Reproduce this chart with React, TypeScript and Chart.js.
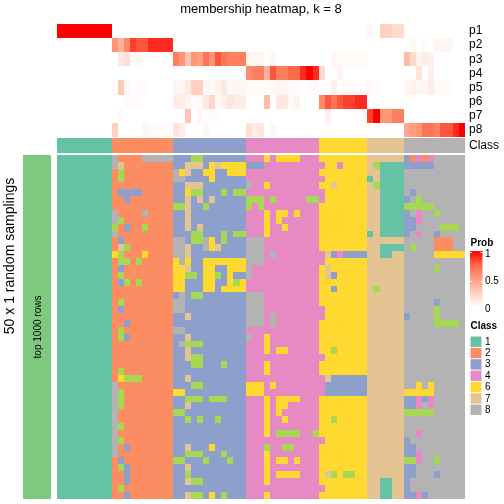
import React, { useEffect, useRef } from "react";
import { Chart, registerables } from "chart.js";

Chart.register(...registerables);

const titleText = "membership heatmap, k = 8";
const rowAxisTitle = "50 x 1 random samplings";
const rowAnnotationLabel = "top 1000 rows";
const probLabels = ["p1", "p2", "p3", "p4", "p5", "p6", "p7", "p8"];
const legendClasses = ["1", "2", "3", "4", "6", "7", "8"];
const colbarTicks = ["1", "0.5", "0"];

const groupSizes = [9, 10, 12, 12, 8, 6, 10];
const groupClasses = ["1", "2", "3", "4", "6", "7", "8"];

const p1 = [1,1,1,1,1,1,1,1,1, 0,0,0,0,0,0,0,0,0,0, 0,0,0,0,0,0,0,0,0,0,0,0, 0,0,0,0,0,0,0,0,0,0,0,0, 0,0,0,0,0,0,0,0, .05,0,.25,.25,.18,.18, 0,0,0,0,0,0,0,0,0,0];
const p2 = [0,0,0,0,0,0,0,0,0, .55,.4,.6,.85,.8,.8,.9,.9,.9,.9, 0,0,0,0,0,0,0,0,0,0,0,0, 0,0,0,0,0,0,0,0,0,0,0,0, 0,0,0,0,0,0,0,0, 0,0,0,0,0,0, 0,.03,0,.03,0,.05,.05,.05,0,0];
const p3 = [0,0,0,0,0,0,0,0,0, 0,.12,.17,.03,.03,0,0,0,0,0, .65,.55,.3,.55,.5,.7,.55,.8,.7,.65,.65,.65, .05,.05,.05,0,.04,0,0,0,0,0,0,0, 0,0,.05,.03,.03,.03,.03,.03, 0,0,0,0,0,0, .35,.2,.06,.1,.08,0,0,0,0,0];
const p4 = [0,0,0,0,0,0,0,0,0, 0,0,0,0,0,0,0,0,0,0, 0,0,0,0,0,0,0,0,0,0,0,0, .6,.65,.65,.4,.8,.65,.65,.75,.75,.9,1,.9, .2,0,0,.05,0,0,0,0, 0,0,0,0,0,0, 0,0,.15,0,.08,0,0,0,0,0];
const p5 = [0,0,0,0,0,0,0,0,0, .02,.28,.05,0,.02,.02,0,0,0,0, .05,.05,.12,.25,.25,.04,.03,.07,.12,.03,.05,.04, .03,.02,.03,.03,.03,.05,.05,.03,.01,0,.02,.03, 0,0,.08,0,.03,.03,0,0, .04,.02,0,0,0,0, .05,.07,.05,.04,.1,.03,.03,.03,0,0];
const p6 = [0,0,0,0,0,0,0,0,0, 0,0,.02,.02,.02,0,0,0,0,0, .1,.1,.05,.03,.03,.12,.22,.03,.08,.14,.1,.1, 0,0,0,.35,0,.12,.12,.03,.06,0,0,0, .6,.8,.7,.8,.85,.85,.9,.9, 0,0,0,0,0,0, 0,0,0,0,0,0,0,0,0,0];
const p7 = [0,0,0,0,0,0,0,0,0, 0,.03,0,0,0,0,0,0,0,0, 0,0,.3,0,.04,0,.02,.02,0,0,0,0, 0,0,0,0,0,0,0,0,0,0,0,0, 0,.08,0,0,0,0,0,0, .85,1,.55,.55,.65,.65, 0,0,0,0,0,0,0,0,0,0];
const p8 = [0,0,0,0,0,0,0,0,0, .25,0,0,0,0,.05,.02,.02,.02,.02, .14,.1,0,0,0,.05,0,0,0,0,0,0, .17,.1,.13,0,.04,0,0,0,0,0,0,0, 0,0,0,0,0,0,0,0, 0,0,0,0,0,0, .45,.5,.55,.7,.7,.65,.8,.8,.9,1];
const probRows = [p1, p2, p3, p4, p5, p6, p7, p8];

const rowsGroup1 = "111111111";
const rowsGroup2 = [
  "8222288888","8722222222","2522222222","2522222222","2222222222","2333322222","2232222222","2222222222","8222282222","8522222222",
  "5232252222","8222222222","2322222222","2752222222","6522262222","2552522222","2322222222","2522222222","2352522222","2222222222",
  "2222222222","2522222222","2322222222","2222222222","2232222222","2522222222","2532222222","2222222222","2222222222","2222222222",
  "2222222222","2522222222","2655522222","8222222222","8522222222","8522222222","8522222222","8222222222","8222222222","8522222222",
  "8222222222","8522222222","8232222222","8222222222","2322222222","2532222222","2232222222","2232222222","2522222222","2232222222",
];
const rowsGroup3 = [
  "333553333333","337773676666","867336633666","883333633333","337773333333","336553335355","337373733333","557335333333","337333333333","337333333333",
  "337373333333","333553335355","883558635333","887338673333","887333333333","686336666666","667336633666","665536653633","663336633656","663336636666",
  "383553333333","883333333333","883333333333","337333333333","333333333333","883333333333","337333333333","385553333333","337333333333","337553333333",
  "333553335333","333333333333","337333333333","333553333333","663333333333","335553555333","337333333333","553333333333","335353353333","333333333333",
  "333333333333","333333333333","337333633333","335553335333","553335333533","337333333333","335333333333","337553333333","333333333333","337553635333",
];
const rowsGroup4 = [
  "444646666444","333444444444","444444444444","444444444444","844644444444","444444444444","555454444455","545444444444","444646646444","444646444444",
  "444644644444","444644444444","888444444444","888444444444","888484444444","888444444444","844444444444","844444444444","444444444444","444444444444",
  "888444444444","888444444444","888444444444","888484444444","888484444444","444444444444","844644444444","444644444444","444646644444","444444444444",
  "444644444444","444644444444","444444444444","666464444444","666444444444","444646666444","444646644444","444646444444","444644644444","444644444444",
  "444645555445","444444444444","444544554444","444644444444","444646646444","444644444444","444646666444","444644444444","444444444444","444644444444",
];
const rowsGroup6 = [
  "66666666","46646666","66666666","46666666","66766666","46666666","46666666","66666666","66666666","66666666",
  "66666666","66666666","66666666","66666666","47343333","46666666","67666666","67366666","66666666","66366666",
  "66666666","66666666","46666666","46666666","66666666","66666666","66666666","66666666","66566666","46666666",
  "66666666","66666666","47333333","43333333","43333333","66666666","66666666","66666666","66566666","66666666",
  "66666666","46666666","66666666","66666666","66666666","66666666","67565566","66666666","46666666","66666666",
];
const rowsGroup7 = [
  "777777","751111","771111","171111","751111","771111","771111","771111","771111","771111",
  "771111","171111","777777","771111","771177","777777","777777","777777","777777","757777",
  "777777","777777","777777","777777","777777","777777","777777","777777","777777","777777",
  "777777","777777","777777","777777","777777","777777","777777","777777","777777","777777",
  "777777","777777","777777","777777","777777","777777","777777","771177","771177","771177",
];
const rowsGroup8 = [
  "3242488888","3333388888","8888888888","8888888888","8888888888","8388888888","3858888888","5555588888","3848858888","3348888888",
  "3388885558","3848838888","8888822288","8588822288","8888866666","8888888888","8888858888","8888888888","8888888888","8888888888",
  "8888888888","8888838888","8888858888","3888858888","8888855558","8888888888","8888888888","8888888888","8888888888","8888888888",
  "8888888888","8888888888","8888888888","8868688888","6666688888","3343488888","3348488888","5555588888","8888888888","8888888888",
  "8848888888","3888888888","3388888888","3348888888","5548858888","3388888888","3388838888","3888888888","3888888888","3343888888",
];

const classColors: Record<string, string> = {
  "1": "#66C2A5", "2": "#FC8D62", "3": "#8DA0CB", "4": "#E78AC3",
  "5": "#A6D854", "6": "#FFD92F", "7": "#E5C494", "8": "#B3B3B3",
};
const rowAnnotationColor = "#7FC97F";

const probStops: [number, number, number, number][] = [
  [0, 255, 255, 255], [0.25, 255, 207, 192], [0.5, 255, 158, 129], [0.75, 255, 106, 75], [1, 255, 0, 0],
];
function probColor(v: number) {
  for (let i = 1; i < probStops.length; i++) {
    const a = probStops[i - 1], b = probStops[i];
    if (v <= b[0]) {
      const t = (v - a[0]) / (b[0] - a[0]);
      return `rgb(${Math.round(a[1] + (b[1] - a[1]) * t)},${Math.round(a[2] + (b[2] - a[2]) * t)},${Math.round(a[3] + (b[3] - a[3]) * t)})`;
    }
  }
  return "rgb(255,0,0)";
}

const FONT = '"Liberation Sans", Arial, sans-serif';

// layout of the vertical axis (in canvas-aligned units)
const TOP = 24, PROB_H = 14.1, CLASS_TOP = 138, CLASS_BOTTOM = 153, MAIN_TOP = 155, MAIN_BOTTOM = 498.7;
const ROW_H = (MAIN_BOTTOM - MAIN_TOP) / 50;
const COL_W = 6.085;
const ANNOT_CENTER = (37 - 57) / COL_W;

function buildDatasets() {
  const columnClasses: string[] = [];
  groupSizes.forEach((n, i) => { for (let k = 0; k < n; k++) columnClasses.push(groupClasses[i]); });
  const nCols = columnClasses.length;
  const sets: any[] = [];
  sets.push({
    label: "annotation",
    data: [{ x: ANNOT_CENTER, y: [MAIN_TOP, MAIN_BOTTOM] }],
    backgroundColor: rowAnnotationColor,
    barThickness: 28,
    stack: "s",
  });
  probRows.forEach((row, r) => {
    sets.push({
      label: probLabels[r],
      data: row.map((_, c) => ({ x: c + 0.5, y: [TOP + PROB_H * r, TOP + PROB_H * (r + 1)] })),
      backgroundColor: row.map(probColor),
      stack: "s",
    });
  });
  sets.push({
    label: "Class",
    data: columnClasses.map((_, c) => ({ x: c + 0.5, y: [CLASS_TOP, CLASS_BOTTOM] })),
    backgroundColor: columnClasses.map((k) => classColors[k]),
    stack: "s",
  });
  for (let r = 0; r < 50; r++) {
    const s = rowsGroup1 + rowsGroup2[r] + rowsGroup3[r] + rowsGroup4[r] + rowsGroup6[r] + rowsGroup7[r] + rowsGroup8[r];
    sets.push({
      label: "sampling " + (r + 1),
      data: Array.from({ length: nCols }, (_, c) => ({ x: c + 0.5, y: [MAIN_TOP + ROW_H * r, MAIN_TOP + ROW_H * (r + 1)] })),
      backgroundColor: s.split("").map((k) => classColors[k]),
      stack: "s",
    });
  }
  return sets;
}

// Snap the rectangles of the bars to whole pixels, as the raster heatmap in the reference is.
const crispPlugin = {
  id: "crispCells",
  beforeDatasetsDraw(chart: any) {
    const ctx = chart.ctx;
    const orig = CanvasRenderingContext2D.prototype.rect;
    ctx.rect = (x: number, y: number, w: number, h: number) => {
      const l = Math.round(x), t = Math.round(y);
      orig.call(ctx, l, t, Math.round(x + w) - l, Math.round(y + h) - t);
    };
  },
  afterDatasetsDraw(chart: any) {
    delete chart.ctx.rect;
  },
};

const textPlugin = {
  id: "heatmapText",
  afterDraw(chart: any) {
    const ctx = chart.ctx as CanvasRenderingContext2D;
    ctx.save();
    ctx.fillStyle = "#000";
    ctx.textBaseline = "middle";

    // rotated labels
    ctx.save();
    ctx.translate(10.5, 256);
    ctx.rotate(-Math.PI / 2);
    ctx.textAlign = "center";
    ctx.font = `14px ${FONT}`;
    ctx.fillText(rowAxisTitle, 0, 0);
    ctx.restore();

    ctx.save();
    ctx.translate(38, 327);
    ctx.rotate(-Math.PI / 2);
    ctx.textAlign = "center";
    ctx.font = `10px ${FONT}`;
    ctx.fillText(rowAnnotationLabel, 0, 0);
    ctx.restore();

    // Prob legend
    ctx.textAlign = "left";
    ctx.font = `bold 10px ${FONT}`;
    ctx.fillText("Prob", 470.5, 243);
    const grad = ctx.createLinearGradient(0, 251, 0, 307);
    probStops.forEach((s) => grad.addColorStop(1 - s[0], `rgb(${s[1]},${s[2]},${s[3]})`));
    ctx.fillStyle = grad;
    ctx.fillRect(470, 251, 12.5, 56);
    ctx.fillStyle = "#fff";
    [252.5, 281.5].forEach((y) => {
      ctx.fillRect(470, y - 0.5, 2, 1);
      ctx.fillRect(480.5, y - 0.5, 2, 1);
    });
    ctx.fillStyle = "#000";
    ctx.font = `10px ${FONT}`;
    ctx.fillText(colbarTicks[0], 485, 254);
    ctx.fillText(colbarTicks[1], 485, 281);
    ctx.fillText(colbarTicks[2], 485, 309);

    // Class legend
    ctx.font = `bold 10px ${FONT}`;
    ctx.fillText("Class", 470.5, 326.5);
    ctx.font = `10px ${FONT}`;
    legendClasses.forEach((k, i) => {
      const y = 336 + i * 11.35;
      ctx.fillStyle = classColors[k];
      ctx.fillRect(470.5, y + 0.5, 11, 10.4);
      ctx.fillStyle = "#000";
      ctx.fillText(k, 485, y + 6);
    });
    ctx.restore();
  },
};

export default function App() {
  const ref = useRef<HTMLCanvasElement>(null);
  useEffect(() => {
    document.body.style.margin = "0";
    const tickValues = [...probLabels.map((_, i) => TOP + PROB_H * (i + 0.5)), (CLASS_TOP + CLASS_BOTTOM) / 2];
    const tickNames = [...probLabels, "Class"];
    const chart = new Chart(ref.current as HTMLCanvasElement, {
      type: "bar",
      data: { datasets: buildDatasets() },
      plugins: [crispPlugin, textPlugin],
      options: {
        responsive: false,
        animation: false,
        events: [],
        categoryPercentage: 1,
        barPercentage: 1,
        borderWidth: 0,
        inflateAmount: 0,
        layout: { padding: { left: 18, right: 0, top: 0, bottom: 5.3 } },
        plugins: {
          legend: { display: false },
          tooltip: { enabled: false },
          title: {
            display: true,
            text: titleText,
            color: "#000",
            font: { family: FONT, size: 13, weight: "normal", lineHeight: 1.2 },
            padding: { top: 1.7, bottom: 6.7 },
          },
        },
        scales: {
          x: {
            type: "linear",
            display: false,
            stacked: true,
            offset: false,
            min: (23 - 57) / COL_W,
            max: (465 - 57) / COL_W,
            grid: { display: false },
          },
          y: {
            type: "linear",
            position: "right",
            stacked: false,
            reverse: true,
            min: TOP,
            max: MAIN_BOTTOM,
            grid: { display: false, drawTicks: false, tickLength: 0 },
            border: { display: false },
            ticks: {
              autoSkip: false,
              padding: 4,
              color: "#000",
              font: { family: FONT, size: 12 },
              callback: (v: number) => {
                const i = tickValues.indexOf(v);
                return i >= 0 ? tickNames[i] : "";
              },
            },
            afterBuildTicks: (axis: any) => {
              axis.ticks = tickValues.map((value) => ({ value }));
            },
            afterFit: (axis: any) => {
              axis.width = 39;
              axis.paddingTop = 0;
              axis.paddingBottom = 0;
            },
          },
          yLeft: {
            type: "linear",
            position: "left",
            min: 0,
            max: 1,
            grid: { display: false, drawTicks: false },
            border: { display: false },
            ticks: { display: false },
            afterFit: (axis: any) => {
              axis.width = 5;
              axis.paddingTop = 0;
              axis.paddingBottom = 0;
            },
          },
        },
      } as any,
    });
    return () => chart.destroy();
  }, []);
  return <canvas ref={ref} width={504} height={504} style={{ display: "block", position: "absolute", left: 0, top: 0 }} />;
}
